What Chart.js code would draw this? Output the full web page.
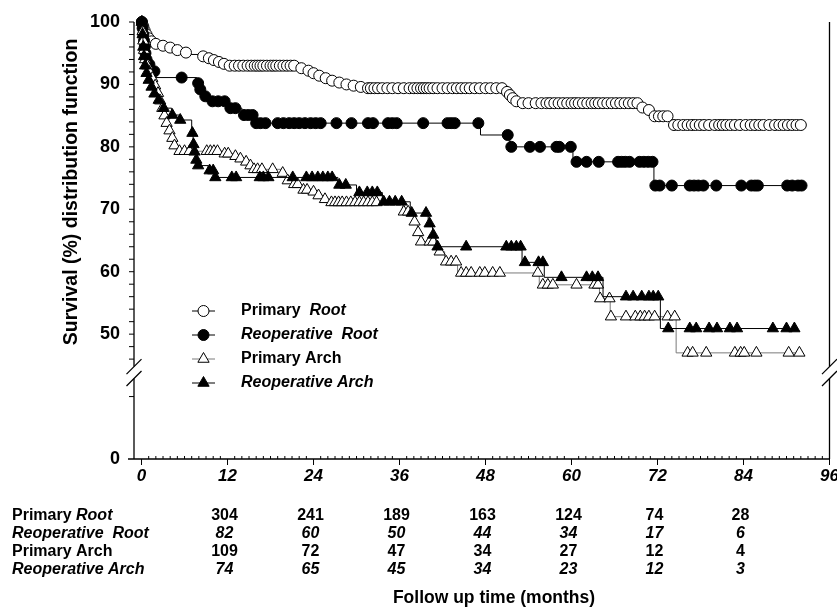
<!DOCTYPE html>
<html>
<head>
<meta charset="utf-8">
<script src="https://cdn.jsdelivr.net/npm/chart.js@4.4.0/dist/chart.umd.min.js"></script>
<style>
  html, body { margin: 0; padding: 0; background: #fff; }
</style>
</head>
<body>
<canvas id="myChart" width="837" height="611"></canvas>
<script>
// Kaplan-Meier points [month, survival %]; a repeated survival value = censored case (gets a marker)
const primaryRoot = [
  [0,100],[0.05,100],[0.2,99.3],[0.25,99.3],[0.4,98.6],[0.45,98.6],[0.6,98.0],[0.7,98.0],[0.9,97.4],[1.0,97.4],
  [1.3,96.9],[1.4,96.9],[1.8,96.5],[2.0,96.5],[2.8,96.2],[3.0,96.2],[3.8,95.9],[4.0,95.9],[4.8,95.5],[5.0,95.5],
  [5.8,95.1],[6.2,95.1],[6.6,94.8],
  [8.5,94.5],[8.6,94.5],[9.2,94.2],[9.4,94.2],[9.9,93.9],[10.1,93.9],[10.6,93.6],[10.8,93.6],[11.3,93.3],[11.5,93.3],
  [12.1,93.0],[12.3,93.0],[13.0,93.0],[13.6,93.0],[14.2,93.0],[14.8,93.0],[15.3,93.0],[15.8,93.0],[16.2,93.0],
  [16.6,93.0],[17.0,93.0],[17.5,93.0],[18.0,93.0],[18.4,93.0],[18.8,93.0],[19.3,93.0],[19.8,93.0],[20.3,93.0],
  [20.8,93.0],[21.3,93.0],
  [22.0,92.6],[22.3,92.6],[23.0,92.2],[23.3,92.2],[23.8,91.8],[24.0,91.8],[24.6,91.4],[24.8,91.4],[25.4,91.0],
  [25.7,91.0],[26.3,90.6],[26.6,90.6],[27.3,90.3],[27.6,90.3],[28.3,90.0],[28.6,90.0],[29.3,89.8],[29.6,89.8],
  [30.3,89.6],[30.6,89.6],[31.2,89.4],
  [31.6,89.4],[32.0,89.4],[32.5,89.4],[33.0,89.4],[33.6,89.4],[34.3,89.4],[35.0,89.4],[35.8,89.4],[36.6,89.4],
  [37.4,89.4],[38.0,89.4],[38.5,89.4],[39.0,89.4],[39.4,89.4],[39.8,89.4],[40.2,89.4],[40.7,89.4],[41.3,89.4],
  [42.0,89.4],[42.7,89.4],[43.4,89.4],[44.0,89.4],[44.6,89.4],[45.2,89.4],[45.8,89.4],[46.5,89.4],[47.2,89.4],
  [48.0,89.4],[48.7,89.4],[49.5,89.4],[50.3,89.4],
  [50.8,88.8],[51.0,88.8],[51.2,88.3],[51.4,88.3],[51.6,87.8],[51.8,87.8],[52.0,87.3],[52.3,87.3],[52.7,87.0],
  [53.2,87.0],[54.0,87.0],[55.0,87.0],[55.8,87.0],[56.5,87.0],[57.0,87.0],[57.6,87.0],[58.2,87.0],[58.8,87.0],
  [59.4,87.0],[60.0,87.0],[60.5,87.0],[61.0,87.0],[61.6,87.0],[62.2,87.0],[62.8,87.0],[63.3,87.0],[63.8,87.0],
  [64.4,87.0],[65.0,87.0],[65.6,87.0],[66.2,87.0],[66.8,87.0],[67.4,87.0],[68.0,87.0],[68.6,87.0],[69.2,87.0],
  [69.6,86.3],[69.9,86.3],[70.5,85.9],[70.8,85.9],[71.2,84.9],[71.6,84.9],[72.2,84.9],[72.8,84.9],[73.4,84.9],
  [74.0,83.5],[74.3,83.5],[74.9,83.5],[75.6,83.5],[76.2,83.5],[76.8,83.5],[77.3,83.5],[77.9,83.5],[78.5,83.5],
  [79.2,83.5],[80.0,83.5],[80.6,83.5],[81.1,83.5],[81.6,83.5],[82.2,83.5],[82.8,83.5],[83.5,83.5],[84.3,83.5],
  [85.0,83.5],[85.6,83.5],[86.2,83.5],[86.8,83.5],[87.6,83.5],[88.4,83.5],[89.0,83.5],[89.6,83.5],[90.2,83.5],
  [90.8,83.5],[91.4,83.5],[92.0,83.5]
];

const reopRoot = [
  [0,100],[0.05,100],[0.1,99],[0.15,99],[0.2,98],[0.25,98],[0.3,97],[0.35,97],[0.4,96],[0.45,96],[0.5,95],[0.55,95],
  [0.65,94],[0.7,94],[0.9,93.2],[1.1,93.2],[1.5,92.1],[1.8,92.1],[2.0,91.1],[5.6,91.1],
  [7.7,90.2],[7.9,90.2],[8.1,89.2],[8.2,89.2],[8.7,88.1],[8.9,88.1],[9.6,87.3],[9.9,87.3],[10.7,87.3],[11.6,87.3],
  [12.1,86.2],[12.4,86.2],[13.1,86.2],[14.0,85.1],[14.3,85.1],[14.9,85.1],[15.5,85.1],
  [15.8,83.8],[16.0,83.8],[16.6,83.8],[17.3,83.8],[19.0,83.8],[19.8,83.8],[20.6,83.8],[21.3,83.8],[22.0,83.8],
  [22.8,83.8],[23.6,83.8],[24.3,83.8],[25.0,83.8],[27.2,83.8],[29.3,83.8],[31.6,83.8],[32.3,83.8],[34.4,83.8],
  [35.0,83.8],[35.6,83.8],[39.3,83.8],[42.7,83.8],[43.2,83.8],[43.7,83.8],[47.0,83.8],
  [47.3,81.9],[51.1,81.9],
  [51.4,80.0],[51.6,80.0],[54.2,80.0],[55.6,80.0],[57.9,80.0],[58.3,80.0],[59.9,80.0],
  [60.2,77.6],[60.7,77.6],[62.1,77.6],[63.8,77.6],[66.5,77.6],[67.0,77.6],[67.5,77.6],[68.1,77.6],[69.5,77.6],
  [70.1,77.6],[70.7,77.6],[71.3,77.6],
  [71.5,73.8],[71.7,73.8],[72.3,73.8],[74.0,73.8],[76.5,73.8],[77.1,73.8],[77.7,73.8],[78.4,73.8],[80.2,73.8],
  [83.7,73.8],[85.1,73.8],[85.6,73.8],[86.0,73.8],[90.1,73.8],[90.8,73.8],[91.6,73.8],[92.1,73.8]
];

const primaryArch = [
  [0,100],[0.05,100],[0.1,98.5],[0.15,98.5],[0.2,97],[0.25,97],[0.3,95.5],[0.35,95.5],[0.45,94],[0.5,94],
  [0.7,93],[0.8,93],[1.0,92],[1.1,92],[1.4,91],[1.5,91],[1.8,89.8],[1.9,89.8],[2.2,88.6],[2.3,88.6],
  [2.5,87.4],[2.6,87.4],[2.8,86.2],[2.9,86.2],[3.1,85],[3.2,85],[3.4,83.8],[3.5,83.8],[3.8,82.6],[3.9,82.6],
  [4.2,81.4],[4.3,81.4],[4.5,80.2],[4.6,80.2],[5.0,79.3],[5.3,79.3],[6.0,79.3],[6.7,79.3],[9.1,79.3],[9.6,79.3],
  [10.1,79.3],[10.6,79.3],[11.3,78.9],[11.6,78.9],[12.1,78.9],[12.8,78.5],[13.1,78.5],[13.5,78.1],[13.8,78.1],
  [14.3,77.6],[14.6,77.6],[15.0,77.0],[15.2,77.0],[15.5,76.4],[15.7,76.4],[16.2,76.4],[16.8,76.4],[18.3,76.4],
  [19.5,75.8],[19.7,75.8],[20.2,74.6],[20.4,74.6],[21.0,74.0],[21.3,74.0],[21.8,74.0],[22.3,73.1],[22.6,73.1],
  [23.1,73.1],[23.7,72.8],[24.0,72.8],[24.4,72.2],[24.7,72.2],[25.3,71.6],[25.6,71.6],[26.2,71.1],[26.5,71.1],
  [27.0,71.1],[27.5,71.1],[28.0,71.1],[28.6,71.1],[29.2,71.1],[29.8,71.1],[30.4,71.1],[31.0,71.1],[31.6,71.1],
  [32.2,71.1],[32.8,71.1],
  [36.4,69.6],[36.6,69.6],[37.2,69.6],[38.0,68.0],[38.1,68.0],[38.5,66.3],[38.6,66.3],[38.8,64.8],[39.0,64.8],
  [40.2,64.8],[40.7,64.8],[41.4,63.2],[41.6,63.2],[42.3,61.6],[42.5,61.6],[43.2,61.6],[43.9,61.6],
  [44.1,59.8],[44.6,59.8],[45.3,59.8],[46.0,59.8],[47.2,59.8],[47.9,59.8],[49.0,59.8],[50.0,59.8],[55.3,59.8],
  [55.5,57.9],[56.0,57.9],[56.7,57.9],[57.4,57.9],[60.7,57.9],[63.2,57.9],[63.7,57.9],
  [63.9,55.7],[64.0,55.7],[65.3,55.7],
  [65.4,52.8],[65.5,52.8],[67.6,52.8],[68.9,52.8],[69.6,52.8],[70.2,52.8],[70.8,52.8],[71.6,52.8],[73.4,52.8],
  [74.4,52.8],
  [74.6,47.0],[76.2,47.0],[76.9,47.0],[78.8,47.0],[82.8,47.0],[83.6,47.0],[84.1,47.0],[85.8,47.0],[90.3,47.0],
  [91.8,47.0]
];

const reopArch = [
  [0,100],[0.05,100],[0.1,98],[0.15,98],[0.2,96],[0.25,96],[0.3,94.5],[0.35,94.5],[0.45,93],[0.5,93],
  [0.6,91.8],[0.7,91.8],[0.9,90.7],[1.0,90.7],[1.3,89.6],[1.4,89.6],[1.7,88.5],[1.8,88.5],[2.2,87.5],[2.4,87.5],
  [3.0,86.2],[3.1,86.2],[4.2,85.1],[4.3,85.1],[5.3,84.3],[5.4,84.3],[7.0,82.2],[7.1,82.2],[7.2,80.4],[7.25,80.4],
  [7.35,79.2],[7.4,79.2],[7.6,77.9],[7.65,77.9],[7.8,77.0],[7.9,77.0],[9.3,76.2],[9.5,76.2],[10.0,76.2],
  [10.2,75.1],[10.3,75.1],[12.6,75.1],[13.2,75.1],[16.5,75.1],[17.0,75.1],[17.7,75.1],[21.1,75.1],[23.0,75.1],
  [23.8,75.1],[24.6,75.1],[25.3,75.1],[26.0,75.1],[26.6,75.1],
  [27.4,73.9],[27.6,73.9],[28.5,73.9],[30.0,72.7],[30.4,72.7],[31.5,72.7],[32.2,72.7],[32.9,72.7],
  [33.6,71.2],[33.8,71.2],[34.6,71.2],[35.4,71.2],[36.3,71.2],[37.5,69.4],[37.7,69.4],[39.7,69.4],
  [40.0,67.7],[40.2,67.7],[40.6,65.9],[40.7,65.9],[41.1,64.0],[41.3,64.0],[45.3,64.0],[50.9,64.0],[51.6,64.0],
  [52.3,64.0],[52.9,64.0],
  [53.1,61.5],[53.5,61.5],[55.4,61.5],[56.0,61.5],
  [56.2,59.1],[58.6,59.1],[62.1,59.1],[62.9,59.1],[63.7,59.1],
  [64.4,56.0],[67.6,56.0],[68.6,56.0],[69.8,56.0],[70.8,56.0],[71.4,56.0],[72.1,56.0],
  [72.4,50.9],[73.5,50.9],[76.5,50.9],[77.4,50.9],[79.2,50.9],[80.3,50.9],[82.1,50.9],[83.1,50.9],[88.1,50.9],
  [90.0,50.9],[91.1,50.9]
];

// Number at risk table
const riskMonths   = [12, 24, 36, 48, 60, 72, 84];
const riskPrimRoot = [304, 241, 189, 163, 124, 74, 28];
const riskReopRoot = [82, 60, 50, 44, 34, 17, 6];
const riskPrimArch = [109, 72, 47, 34, 27, 12, 4];
const riskReopArch = [74, 65, 45, 34, 23, 12, 3];

// Axis ticks
const xTickVals = [0, 12, 24, 36, 48, 60, 72, 84, 96];
const yTickVals = [0, 50, 60, 70, 80, 90, 100];

const FONT = '"Liberation Sans", Arial, Helvetica, sans-serif';
const BREAK_SHIFT = 30;            // values above the axis break are moved down by this
const BREAK_HI = 14.8, BREAK_LO = 12.9;

function toPlot(v) { return v < BREAK_SHIFT ? v : v - BREAK_SHIFT; }

function markerRadius(points, r) {
  // censored cases: same survival as the point before
  return points.map((p, i) => (i > 0 && p[1] === points[i - 1][1]) ? r : 0);
}

function kmDataset(label, points, opts) {
  return Object.assign({
    label: label,
    data: points.map(p => ({x: p[0], y: toPlot(p[1])})),
    stepped: 'before',
    borderWidth: 1,
    borderColor: '#000',
    pointRadius: markerRadius(points, opts.r),
    pointBorderColor: '#000',
    pointBorderWidth: 1,
    pointHoverRadius: 0,
    fill: false,
    clip: false
  }, opts.style);
}

function line(ctx, x1, y1, x2, y2) {
  ctx.beginPath(); ctx.moveTo(x1, y1); ctx.lineTo(x2, y2); ctx.stroke();
}

// draws text made of [text, italic] parts
function richText(ctx, parts, x, y, size) {
  parts.forEach(p => {
    ctx.font = (p[1] ? 'italic ' : '') + 'bold ' + size + 'px ' + FONT;
    ctx.fillText(p[0], x, y);
    x += ctx.measureText(p[0]).width;
  });
}

const legendItems = [
  {parts: [['Primary  ', 0], ['Root', 1]], style: 'circle', r: 5.5, fill: '#fff', line: '#000'},
  {parts: [['Reoperative  Root', 1]], style: 'circle', r: 5.5, fill: '#000', line: '#000'},
  {parts: [['Primary Arch', 0]], style: 'triangle', r: 6.5, fill: '#fff', line: '#7a7a7a'},
  {parts: [['Reoperative Arch', 1]], style: 'triangle', r: 6.5, fill: '#000', line: '#000'}
];

const tableRows = [
  {parts: [['Primary ', 0], ['Root', 1]], values: riskPrimRoot, italic: false},
  {parts: [['Reoperative  Root', 1]], values: riskReopRoot, italic: true},
  {parts: [['Primary Arch', 0]], values: riskPrimArch, italic: false},
  {parts: [['Reoperative Arch', 1]], values: riskReopArch, italic: true}
];

const decorPlugin = {
  id: 'decor',
  beforeDatasetsDraw(chart) {
    const {ctx, chartArea: a, scales: {x, y}} = chart;
    const yTop = y.getPixelForValue(toPlot(100));
    const yHi = y.getPixelForValue(BREAK_HI);
    const yLo = y.getPixelForValue(BREAK_LO);
    const y0 = y.getPixelForValue(0);
    ctx.save();
    ctx.strokeStyle = '#000';
    ctx.lineWidth = 1.3;
    [a.left, a.right].forEach(px => {
      line(ctx, px, yTop, px, yHi);
      line(ctx, px, yLo, px, y0);
      line(ctx, px - 7.5, yHi + 7.5, px + 7.5, yHi - 7.5);
      line(ctx, px - 7.5, yLo + 7.5, px + 7.5, yLo - 7.5);
    });
    line(ctx, a.left - 6, y0, a.right, y0);
    ctx.lineWidth = 1;
    // y ticks
    for (let v = 46; v <= 100; v += 2) {
      const py = y.getPixelForValue(toPlot(v));
      line(ctx, a.left - 5, py, a.left, py);
    }
    const p10 = y.getPixelForValue(10);
    line(ctx, a.left - 5, p10, a.left, p10);
    // x ticks
    for (let m = 0; m <= 96; m++) {
      const px = x.getPixelForValue(m);
      if (m % 12 === 0) line(ctx, px, y0, px, y0 + 6);
      else line(ctx, px, y0 - 3, px, y0);
    }
    ctx.restore();
  },
  afterDraw(chart) {
    const {ctx, scales: {x}} = chart;
    ctx.save();
    ctx.fillStyle = '#000';
    ctx.textBaseline = 'middle';

    // legend
    legendItems.forEach((it, i) => {
      const ly = 311 + i * 24;
      ctx.strokeStyle = it.line;
      ctx.lineWidth = 1;
      line(ctx, 192, ly, 215, ly);
      ctx.fillStyle = it.fill;
      ctx.strokeStyle = '#000';
      Chart.helpers.drawPoint(ctx, {pointStyle: it.style, radius: it.r, borderWidth: 1, rotation: 0}, 203.5, ly);
      ctx.fillStyle = '#000';
      ctx.textAlign = 'left';
      richText(ctx, it.parts, 241, ly, 16);
    });

    // number at risk
    tableRows.forEach((row, i) => {
      const ry = 516 + i * 18;
      ctx.textAlign = 'left';
      richText(ctx, row.parts, 12, ry, 16);
      ctx.textAlign = 'center';
      ctx.font = (row.italic ? 'italic ' : '') + 'bold 16px ' + FONT;
      row.values.forEach((v, j) => {
        ctx.fillText(String(v), x.getPixelForValue(riskMonths[j]) - 3, ry);
      });
    });

    // axis titles
    ctx.textAlign = 'center';
    ctx.font = 'bold 17.5px ' + FONT;
    ctx.fillText('Follow up time (months)', 494, 598);
    ctx.translate(72, 192);
    ctx.rotate(-Math.PI / 2);
    ctx.font = 'bold 19.5px ' + FONT;
    ctx.fillText('Survival (%) distribution function', 0, 0);
    ctx.restore();
  }
};

const ctx = document.getElementById('myChart').getContext('2d');
const myChart = new Chart(ctx, {
  type: 'line',
  data: {
    datasets: [
      kmDataset('Reoperative Arch', reopArch, {r: 6.5, style: {pointStyle: 'triangle', pointBackgroundColor: '#000'}}),
      kmDataset('Primary Arch', primaryArch, {r: 6.5, style: {pointStyle: 'triangle', pointBackgroundColor: '#fff', borderColor: '#7a7a7a'}}),
      kmDataset('Reoperative Root', reopRoot, {r: 5.5, style: {pointStyle: 'circle', pointBackgroundColor: '#000'}}),
      kmDataset('Primary Root', primaryRoot, {r: 5.5, style: {pointStyle: 'circle', pointBackgroundColor: '#fff'}})
    ]
  },
  options: {
    responsive: false,
    animation: false,
    layout: {padding: {top: 22, right: 7, left: 0, bottom: 0}},
    plugins: {legend: {display: false}, tooltip: {enabled: false}},
    scales: {
      x: {
        type: 'linear',
        min: -1.05,
        max: 96,
        grid: {display: false, drawTicks: false},
        border: {display: false},
        afterBuildTicks: s => { s.ticks = xTickVals.map(v => ({value: v})); },
        afterFit: s => { s.height = 152; s.paddingLeft = 0; s.paddingRight = 0; },
        ticks: {
          padding: 7,
          maxRotation: 0,
          autoSkip: false,
          color: '#000',
          font: {family: FONT, size: 17, weight: 'bold', style: 'italic'}
        }
      },
      y: {
        type: 'linear',
        min: 0,
        max: 70,
        grid: {display: false, drawTicks: false},
        border: {display: false},
        afterBuildTicks: s => { s.ticks = yTickVals.map(v => ({value: toPlot(v)})); },
        afterFit: s => { s.width = 134; s.paddingTop = 0; s.paddingBottom = 0; },
        ticks: {
          padding: 14,
          color: '#000',
          font: {family: FONT, size: 18, weight: 'bold'},
          callback: v => String(v === 0 ? 0 : v + BREAK_SHIFT)
        }
      }
    }
  },
  plugins: [decorPlugin]
});
</script>
</body>
</html>
